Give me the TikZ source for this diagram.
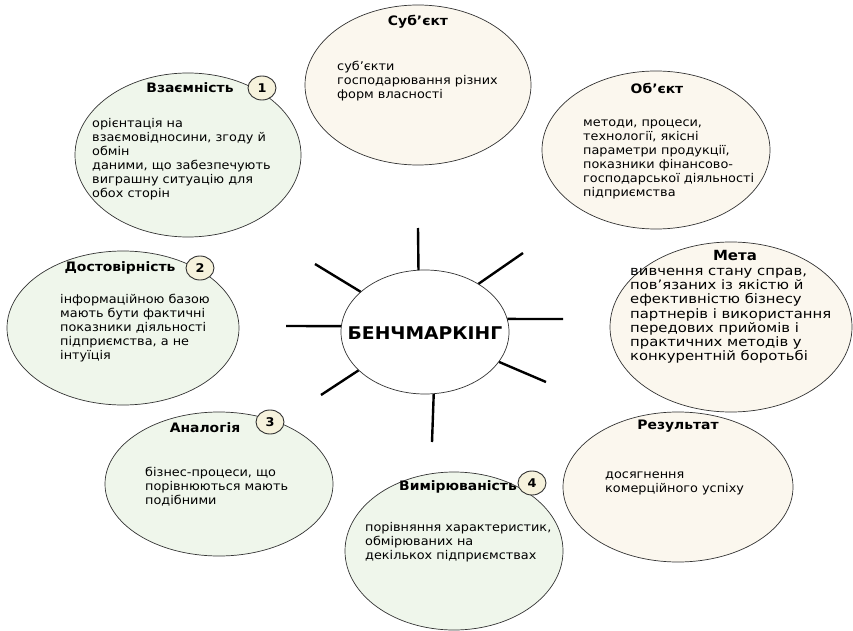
\documentclass[tikz,border=0pt]{standalone}
\usepackage{fontspec}
\setmainfont{DejaVu Sans}[FakeStretch=1.07]
\newfontfamily\shyr{DejaVu Sans}[FakeStretch=1.14]
\usetikzlibrary{shapes.geometric}
\definecolor{zelen}{HTML}{EFF6EB}
\definecolor{krem}{HTML}{FBF7EE}
\definecolor{kruzh}{HTML}{F6F2DC}
\definecolor{kontur}{HTML}{333333}

\begin{document}
\begin{tikzpicture}[x=1pt,y=-1pt,
  oval/.style={ellipse,draw=kontur,line width=0.7pt,inner sep=0pt},
  princyp/.style={oval,fill=zelen},
  aspekt/.style={oval,fill=krem},
  nomer/.style={ellipse,draw=kontur,line width=0.9pt,fill=kruzh,minimum width=28pt,minimum height=24pt,inner sep=0pt,font=\bfseries\fontsize{12}{12}\selectfont},
  zagol/.style={font=\bfseries\fontsize{13}{15}\selectfont},
  tekst/.style={anchor=north west,align=left,inner sep=0pt,font=\fontsize{12}{14}\selectfont},
  promin/.style={line width=2.4pt}]
  \useasboundingbox (0,0) rectangle (853,631);

  \node[princyp,minimum width=226pt,minimum height=164pt] (vzajem) at (188,155) {};
  \node[aspekt,minimum width=226pt,minimum height=160pt] (subj) at (418,85) {};
  \node[aspekt,minimum width=228pt,minimum height=158pt] (obj) at (656,150) {};
  \node[princyp,minimum width=232pt,minimum height=154pt] (dostov) at (123,328) {};
  \node[aspekt,minimum width=242pt,minimum height=170pt] (meta) at (731,327) {};
  \node[princyp,minimum width=228pt,minimum height=144pt] (analog) at (219,484) {};
  \node[princyp,minimum width=218pt,minimum height=158pt] (vymir) at (454,551) {};
  \node[aspekt,minimum width=230pt,minimum height=150pt] (rezult) at (678,487) {};
  \node[oval,fill=white,minimum width=168pt,minimum height=124pt] (bench) at (425,332) {};

  \node[font=\bfseries\fontsize{17.5}{20}\selectfont] (benchtxt) at (425,333) {БЕНЧМАРКІНГ};

  \coordinate (p1) at (418,228);
  \coordinate (p2) at (523,253);
  \coordinate (p3) at (563,319);
  \coordinate (p4) at (546,382);
  \coordinate (p5) at (432,442);
  \coordinate (p6) at (321,395);
  \coordinate (p7) at (286,326);
  \coordinate (p8) at (315,264);
  \foreach \kut/\p in {96/p1,42/p2,9/p3,-22/p4,-82/p5,-150/p6,176/p7,148/p8}
    \draw[promin] (bench.\kut) -- (\p);

  \node[zagol] (t1) at (190,88) {Взаємність};
  \node[nomer] (n1) at (262,88) {1};
  \node[tekst] (b1) at (92,118) {орієнтація на\\взаємовідносини, згоду й\\обмін\\даними, що забезпечують\\виграшну ситуацію для\\обох сторін};

  \node[zagol] (t2) at (418,22) {Суб’єкт};
  \node[tekst] (b2) at (337,61) {суб’єкти\\господарювання різних\\форм власності};

  \node[zagol] (t3) at (657,88) {Об’єкт};
  \node[tekst] (b3) at (583,120) {методи, процеси,\\технології, якісні\\параметри продукції,\\показники фінансово-\\господарської діяльності\\підприємства};

  \node[zagol] (t4) at (120,268) {Достовірність};
  \node[nomer] (n2) at (200,268) {2};
  \node[tekst] (b4) at (60,294) {інформаційною базою\\мають бути фактичні\\показники діяльності\\підприємства, а не\\інтуїція};

  \node[zagol,font=\bfseries\fontsize{14}{15}\selectfont] (t5) at (735,255) {Мета};
  \node[tekst,font=\shyr\fontsize{13}{14.2}\selectfont] (b5) at (630,268) {вивчення стану справ,\\пов’язаних із якістю й\\ефективністю бізнесу\\партнерів і використання\\передових прийомів і\\практичних методів у\\конкурентній боротьбі};

  \node[zagol] (t6) at (205,428) {Аналогія};
  \node[nomer] (n3) at (270,422) {3};
  \node[tekst] (b6) at (145,467) {бізнес-процеси, що\\порівнюються мають\\подібними};

  \node[zagol] (t7) at (458,487) {Вимірюваність};
  \node[nomer] (n4) at (532,483) {4};
  \node[tekst] (b7) at (365,522) {порівняння характеристик,\\обмірюваних на\\декількох підприємствах};

  \node[zagol] (t8) at (678,426) {Результат};
  \node[tekst] (b8) at (605,472) {досягнення\\комерційного успіху};
\end{tikzpicture}
\end{document}
